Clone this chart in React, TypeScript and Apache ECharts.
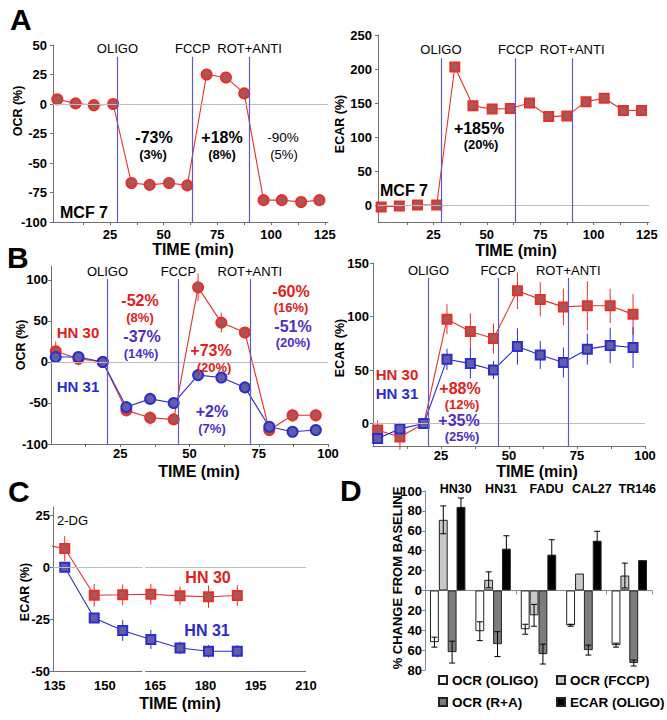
import React, { useEffect, useRef } from 'react';
import * as echarts from 'echarts';

// ---------------- DATA ----------------
const injectionNames = ['OLIGO', 'FCCP', 'ROT+ANTI'];

// Panel A (MCF 7)
const timeA = [0.5, 9, 17.5, 26.5, 35, 43.5, 52.5, 61, 70, 79, 87.5, 96.5, 105, 114, 122.5];
const injectA = [28.5, 63.5, 90];
const ocrMcf7 = [4, 0.5, -1, 0, -67, -68.5, -67, -69, 25, 22.5, 9, -81.5, -81.5, -83, -81.5];
const ocrMcf7Err = [2, 4, 2, 2, 2, 2, 2, 2, 4, 3, 3, 2, 2, 2, 2];
const ecarMcf7 = [-3, -1.5, 0, 0, 203, 146, 141, 142, 150, 130, 131, 152, 157, 139, 139];
const ecarMcf7Err = [3, 3, 3, 3, 5, 7, 6, 7, 4, 3, 3, 4, 4, 4, 3];

// Panel B (HN 30 / HN 31)
const timeB = [1.7, 9.9, 18.7, 27.2, 35.8, 44.3, 53.1, 61.5, 70, 78.8, 87.2, 95.6];
const injectB = [20.4, 46, 71.8];
const ocrHN30 = [13, 4, 0, -59, -68, -70, 91, 48, 36, -83, -65, -65];
const ocrHN30Err = [12, 8, 1, 5, 8, 5, 17, 12, 5, 3, 8, 8];
const ocrHN31 = [6, 6, 0, -55, -45, -50, -16, -19, -31, -79, -85, -83];
const ocrHN31Err = [4, 3, 1, 4, 3, 3, 3, 3, 3, 4, 4, 3];
const ecarHN30 = [-6, -12.5, 0, 97.5, 86, 79.5, 124, 116, 109, 110, 110, 102];
const ecarHN30Err = [9, 12, 1, 14, 17, 14, 17, 16, 17, 23, 16, 19];
const ecarHN31 = [-14, -5, 0, 60, 56, 50, 72, 64, 57, 69.5, 73, 71];
const ecarHN31Err = [5, 6, 1, 10, 14, 8.5, 17, 13, 14, 14.5, 16.5, 19];

// Panel C (2-DG)
const timeC = [138, 146.8, 155.3, 163.7, 172.4, 180.9, 189.5];
const leadTimeC = 131.5;
const leadHN30C = 11;
const ecarC30 = [9, -13.5, -13.3, -13, -13.8, -14.2, -13.6];
const ecarC30Err = [6, 5.5, 5, 5, 4.5, 5.4, 5];
const ecarC31 = [0, -24.5, -30.5, -34.8, -38.9, -40.5, -40.5];
const ecarC31Err = [1, 2, 5, 4.6, 3, 3, 3];
const axisBreakC = [161.2, 162];

// Panel D (bars)
const cellLines = ['HN30', 'HN31', 'FADU', 'CAL27', 'TR146'];
const ocrOligo = [-52, -41, -39, -35, -55];
const ocrOligoErr = [5, 9.5, 5, 1, 2];
const ocrFccp = [71, 10.7, -25, 17, 15];
const ocrFccpErr = [14, 8, 11, 0, 12.5];
const ocrRA = [-62, -54, -64, -60, -73];
const ocrRAErr = [11, 12.5, 10, 5, 3];
const ecarOligo = [84, 42, 36, 50, 30.5];
const ecarOligoErr = [9, 13, 15, 9.5, 0];

// Tick labels
const xLabelsA = [25, 50, 75, 100, 125];
const xTicksA = [12.5, 25, 37.5, 50, 62.5, 75, 87.5, 100, 112.5, 125];
const yLabelsOcrA = [-100, -75, -50, -25, 0, 25, 50];
const yLabelsEcarA = [0, 50, 100, 150, 200, 250];
const xLabelsB = [25, 50, 75, 100];
const xTicksB = [12.5, 25, 37.5, 50, 62.5, 75, 87.5, 100];
const yLabelsOcrB = [-100, -50, 0, 50, 100];
const yLabelsEcarB = [0, 50, 100, 150];
const xLabelsC = [135, 150, 165, 180, 195, 210];
const yLabelsEcarC = [-50, -25, 0, 25];

// ---------------- STYLE ----------------
const FONT = '"Liberation Sans", Arial, Helvetica, sans-serif';
const RED = '#e8302a';
const RED_FILL = '#a85656';
const BLUE = '#2c2cd2';
const BLUE_FILL = '#5f5fa2';
const RT = '#e0201a';
const BT = '#4b2fc8';
const BT2 = '#2a2ad2';
const INJ = '#5b5bcc';
const ZERO = '#bdbdbd';
const AX = '#707070';
const BAR_GAP = 0.22;

const pairs = (ts: number[], vs: number[]) => ts.map((t, i) => [t, vs[i]]);

const labelStyle = { fontSize: 13, fontWeight: 'bold', color: '#000', fontFamily: FONT };

function valueX(gridIndex: number, min: number, max: number, labels: number[], ticks: number[] | null, margin: number, showLine = true) {
  return {
    type: 'value', gridIndex, min, max,
    axisLine: { show: showLine, onZero: false, lineStyle: { color: AX, width: 1 } },
    axisTick: ticks ? { show: true, customValues: ticks, length: 3, lineStyle: { color: AX } } : { show: false },
    axisLabel: { ...labelStyle, customValues: labels, margin },
    splitLine: { show: false },
  };
}
function valueY(gridIndex: number, min: number, max: number, labels: number[], margin: number) {
  return {
    type: 'value', gridIndex, min, max,
    axisLine: { show: true, onZero: false, lineStyle: { color: AX, width: 1 } },
    axisTick: { show: true, customValues: labels, length: 3, lineStyle: { color: AX } },
    axisLabel: { ...labelStyle, customValues: labels, margin },
    splitLine: { show: false },
  };
}

function hLine(x0: number, x1: number, y: number, color: string) {
  return [{ coord: [x0, y], lineStyle: { color, width: 1, type: 'solid' }, label: { show: false } }, { coord: [x1, y] }];
}
function injLines(times: number[], yMin: number, yTop: number, dist: number) {
  return times.map((t, i) => [
    {
      coord: [t, yMin],
      lineStyle: { color: INJ, width: 1.2, type: 'solid' },
      label: { show: true, position: 'end', formatter: injectionNames[i], color: '#000', fontSize: 13, fontFamily: FONT, distance: dist },
    },
    { coord: [t, yTop] },
  ]);
}
function markLines(data: any[]) {
  return { silent: true, symbol: ['none', 'none'], animation: false, label: { show: false }, data };
}

function lineSeries(name: string, idx: number, data: any[], color: string, fill: string, symbol: string, extra: any = {}) {
  return {
    type: 'line', name, xAxisIndex: idx, yAxisIndex: idx, data, symbol,
    symbolSize: symbol === 'circle' ? 10 : 9, z: 3,
    lineStyle: { color, width: 1.1 },
    itemStyle: { color: fill, borderColor: color, borderWidth: 2 },
    emphasis: { disabled: true }, silent: true,
    ...extra,
  };
}
function errSeries(idx: number, ts: number[], vs: number[], es: number[], color: string) {
  return {
    type: 'custom', xAxisIndex: idx, yAxisIndex: idx, z: 2, silent: true,
    data: ts.map((t, i) => [t, vs[i] - es[i], vs[i] + es[i]]),
    encode: { x: 0, y: [1, 2] },
    renderItem: (_p: any, api: any) => {
      const a = api.coord([api.value(0), api.value(1)]);
      const b = api.coord([api.value(0), api.value(2)]);
      return { type: 'line', shape: { x1: a[0], y1: a[1], x2: b[0], y2: b[1] }, style: { stroke: color, lineWidth: 1 } };
    },
  };
}
function barSeries(name: string, vals: number[], color: string) {
  return {
    type: 'bar', name, xAxisIndex: 5, yAxisIndex: 5, data: vals,
    barGap: '0%', barCategoryGap: `${BAR_GAP * 100}%`, silent: true,
    itemStyle: { color, borderColor: '#222', borderWidth: 1 },
  };
}
function barErr(k: number, vals: number[], errs: number[]) {
  const data = vals.map((v, i) => [i, v - errs[i], v + errs[i], errs[i]]).filter((d) => d[3] > 0);
  return {
    type: 'custom', xAxisIndex: 5, yAxisIndex: 5, z: 5, silent: true, data,
    encode: { x: 0, y: [1, 2] },
    renderItem: (_p: any, api: any) => {
      const i = api.value(0);
      const band = api.size([1, 0])[0];
      const grp = band * (1 - BAR_GAP);
      const bw = grp / 4;
      const c = api.coord([i, 0]);
      const cx = c[0] - grp / 2 + bw * (k + 0.5);
      const lo = api.coord([i, api.value(1)])[1];
      const hi = api.coord([i, api.value(2)])[1];
      const st = { stroke: '#000', lineWidth: 1 };
      return {
        type: 'group',
        children: [
          { type: 'line', shape: { x1: cx, y1: lo, x2: cx, y2: hi }, style: st },
          { type: 'line', shape: { x1: cx - 3, y1: lo, x2: cx + 3, y2: lo }, style: st },
          { type: 'line', shape: { x1: cx - 3, y1: hi, x2: cx + 3, y2: hi }, style: st },
        ],
      };
    },
  };
}

function T(text: string, x: number, y: number, size: number, color = '#000', weight = 'bold', align = 'center', rotation = 0) {
  return {
    type: 'text', x, y, rotation, z: 50, silent: true,
    style: {
      text, fill: color, fontSize: size, fontWeight: weight, fontFamily: FONT,
      align, verticalAlign: 'middle', textAlign: align, textVerticalAlign: 'middle',
    },
  };
}

function buildOption(): any {
  const R90 = Math.PI / 2;
  return {
    animation: false,
    backgroundColor: '#ffffff',
    textStyle: { fontFamily: FONT },
    grid: [
      { left: 53, top: 45, width: 275, height: 177, outerBoundsMode: 'none' },
      { left: 378, top: 35, width: 271, height: 187, outerBoundsMode: 'none' },
      { left: 51, top: 266, width: 277, height: 178, outerBoundsMode: 'none' },
      { left: 373, top: 263, width: 272, height: 183, outerBoundsMode: 'none' },
      { left: 53, top: 507, width: 253, height: 164, outerBoundsMode: 'none' },
      { left: 425, top: 491, width: 227, height: 179, outerBoundsMode: 'none' },
    ],
    xAxis: [
      valueX(0, -1.5, 126.5, xLabelsA, xTicksA, 6),
      valueX(1, -1, 126, xLabelsA, xTicksA, 6),
      valueX(2, 0, 100, xLabelsB, xTicksB, 3),
      valueX(3, 0, 100, xLabelsB, xTicksB, 3),
      valueX(4, 134.5, 210, xLabelsC, null, 8, false),
      {
        type: 'category', gridIndex: 5, data: cellLines,
        axisLine: { onZero: true, lineStyle: { color: '#8a8a8a', width: 1 } },
        axisTick: { show: true, length: 4, lineStyle: { color: '#8a8a8a' } },
        axisLabel: { show: false },
      },
      {
        type: 'category', gridIndex: 5, data: cellLines, position: 'top',
        axisLine: { show: false, onZero: false },
        axisTick: { show: false },
        axisLabel: { ...labelStyle, fontSize: 12.5, interval: 0, margin: -4, padding: [0, 0, 0, 16] },
      },
    ],
    yAxis: [
      valueY(0, -100, 50, yLabelsOcrA, 6),
      valueY(1, -25, 250, yLabelsEcarA, 6),
      valueY(2, -100, 117, yLabelsOcrB, 3),
      valueY(3, -21, 150, yLabelsEcarB, 4),
      valueY(4, -50, 29, yLabelsEcarC, 3),
      {
        type: 'value', gridIndex: 5, min: -80, max: 100, interval: 20,
        axisLine: { show: true, onZero: false, lineStyle: { color: '#8a8a8a' } },
        axisTick: { show: true, length: 3, lineStyle: { color: '#8a8a8a' } },
        axisLabel: { ...labelStyle, margin: 3, formatter: (v: number) => String(Math.abs(v)) },
        splitLine: { show: false },
      },
    ],
    legend: [
      {
        data: ['OCR (OLIGO)', 'OCR (R+A)'], orient: 'vertical', left: 433, top: 668,
        itemWidth: 8, itemHeight: 8, itemGap: 8, icon: 'rect', selectedMode: false,
        textStyle: { fontSize: 13.5, fontWeight: 'bold', color: '#000', fontFamily: FONT },
      },
      {
        data: ['OCR (FCCP)', 'ECAR (OLIGO)'], orient: 'vertical', left: 551, top: 668,
        itemWidth: 8, itemHeight: 8, itemGap: 8, icon: 'rect', selectedMode: false,
        textStyle: { fontSize: 13.5, fontWeight: 'bold', color: '#000', fontFamily: FONT },
      },
    ],
    series: [
      // A left: OCR MCF7
      errSeries(0, timeA, ocrMcf7, ocrMcf7Err, RED),
      lineSeries('OCR MCF 7', 0, pairs(timeA, ocrMcf7), RED, RED_FILL, 'circle', {
        markLine: markLines([hLine(-1.5, 126.5, 0, ZERO), ...injLines(injectA, -100, 40, 2)]),
      }),
      // A right: ECAR MCF7
      errSeries(1, timeA, ecarMcf7, ecarMcf7Err, RED),
      lineSeries('ECAR MCF 7', 1, pairs(timeA, ecarMcf7), RED, RED_FILL, 'rect', {
        markLine: markLines([hLine(-1, 126, 0, ZERO), ...injLines(injectA, -25, 216, 2)]),
      }),
      // B left: OCR HN30 / HN31
      errSeries(2, timeB, ocrHN30, ocrHN30Err, RED),
      errSeries(2, timeB, ocrHN31, ocrHN31Err, BLUE),
      lineSeries('OCR HN 30', 2, pairs(timeB, ocrHN30), RED, RED_FILL, 'circle', {
        markLine: markLines([hLine(0, 100, 0, ZERO), ...injLines(injectB, -100, 101, 1)]),
      }),
      lineSeries('OCR HN 31', 2, pairs(timeB, ocrHN31), BLUE, BLUE_FILL, 'circle'),
      // B right: ECAR HN30 / HN31
      errSeries(3, timeB, ecarHN30, ecarHN30Err, RED),
      errSeries(3, timeB, ecarHN31, ecarHN31Err, BLUE),
      lineSeries('ECAR HN 30', 3, pairs(timeB, ecarHN30), RED, RED_FILL, 'rect', {
        markLine: markLines([hLine(0, 100, 0, ZERO), ...injLines(injectB, -21, 136, 1)]),
      }),
      lineSeries('ECAR HN 31', 3, pairs(timeB, ecarHN31), BLUE, BLUE_FILL, 'rect'),
      // C: 2-DG
      errSeries(4, timeC, ecarC30, ecarC30Err, RED),
      errSeries(4, timeC, ecarC31, ecarC31Err, BLUE),
      lineSeries('2DG HN 30', 4, [{ value: [leadTimeC, leadHN30C], symbol: 'none' }, ...pairs(timeC, ecarC30)], RED, RED_FILL, 'rect', {
        clip: false,
        markLine: markLines([
          hLine(134.5, axisBreakC[0], 0, ZERO),
          hLine(axisBreakC[1], 210, 0, ZERO),
          hLine(134.5, axisBreakC[0], -50, AX),
          hLine(axisBreakC[1], 210, -50, AX),
        ]),
      }),
      lineSeries('2DG HN 31', 4, pairs(timeC, ecarC31), BLUE, BLUE_FILL, 'rect'),
      // D: bars
      barSeries('OCR (OLIGO)', ocrOligo, '#ffffff'),
      barSeries('OCR (FCCP)', ocrFccp, '#c9c9c9'),
      barSeries('OCR (R+A)', ocrRA, '#7d7d7d'),
      barSeries('ECAR (OLIGO)', ecarOligo, '#000000'),
      barErr(0, ocrOligo, ocrOligoErr),
      barErr(1, ocrFccp, ocrFccpErr),
      barErr(2, ocrRA, ocrRAErr),
      barErr(3, ecarOligo, ecarOligoErr),
    ],
    graphic: [
      // panel letters
      T('A', 10, 19, 30, '#000', 'bold', 'left'),
      T('B', 7, 257, 30, '#000', 'bold', 'left'),
      T('C', 8, 491, 30, '#000', 'bold', 'left'),
      T('D', 340, 490, 30, '#000', 'bold', 'left'),
      // axis titles
      T('OCR (%)', 18, 111, 12.5, '#000', 'bold', 'center', R90),
      T('ECAR (%)', 340, 124, 12.5, '#000', 'bold', 'center', R90),
      T('OCR (%)', 21, 345, 12.5, '#000', 'bold', 'center', R90),
      T('ECAR (%)', 340, 348, 12.5, '#000', 'bold', 'center', R90),
      T('ECAR (%)', 25, 592, 12.5, '#000', 'bold', 'center', R90),
      T('% CHANGE FROM BASELINE', 397, 578, 13, '#000', 'bold', 'center', R90),
      T('TIME (min)', 193, 249, 16),
      T('TIME (min)', 516, 250, 16),
      T('TIME (min)', 199, 471, 16),
      T('TIME (min)', 537, 471, 16),
      T('TIME (min)', 180, 703, 16),
      // A annotations
      T('-73%', 154, 137, 16),
      T('(3%)', 153, 154, 13),
      T('+18%', 222, 137, 16),
      T('(8%)', 222, 154, 13),
      T('-90%', 283, 137, 13.5, '#000', 'normal'),
      T('(5%)', 284, 154, 13, '#000', 'normal'),
      T('MCF 7', 84, 212, 16),
      T('+185%', 479, 128, 16),
      T('(20%)', 481, 144, 13),
      T('MCF 7', 404, 190, 16),
      // B left annotations
      T('-52%', 140, 300, 16, RT),
      T('(8%)', 140, 317, 13, RT),
      T('-37%', 142, 336, 16, BT),
      T('(14%)', 141, 353, 13, BT),
      T('+73%', 211, 350, 16, RT),
      T('(20%)', 214, 367, 13, RT),
      T('+2%', 212, 411, 16, BT),
      T('(7%)', 212, 428, 13, BT),
      T('-60%', 291, 291, 16, RT),
      T('(16%)', 291, 307, 13, RT),
      T('-51%', 293, 326, 16, BT),
      T('(20%)', 293, 342, 13, BT),
      T('HN 30', 78, 332, 15, RT),
      T('HN 31', 78, 386, 15, BT2),
      // B right annotations
      T('HN 30', 397, 374, 15, RT),
      T('HN 31', 397, 393, 15, BT2),
      T('+88%', 460, 388, 16, RT),
      T('(12%)', 462, 404, 13, RT),
      T('+35%', 459, 420, 16, BT),
      T('(25%)', 462, 436, 13, BT),
      // C annotations
      T('2-DG', 57, 520, 13, '#000', 'normal', 'left'),
      T('HN 30', 208, 577, 16, RT),
      T('HN 31', 207, 630, 16, BT2),
    ],
  };
}

export default function App() {
  const ref = useRef<HTMLDivElement>(null);
  useEffect(() => {
    if (!ref.current) return;
    const chart = echarts.init(ref.current, null, { renderer: 'svg' });
    chart.setOption(buildOption());
    return () => chart.dispose();
  }, []);
  return (
    <div
      ref={ref}
      style={{ position: 'fixed', left: 0, top: 0, width: 667, height: 720, background: '#fff' }}
    />
  );
}
